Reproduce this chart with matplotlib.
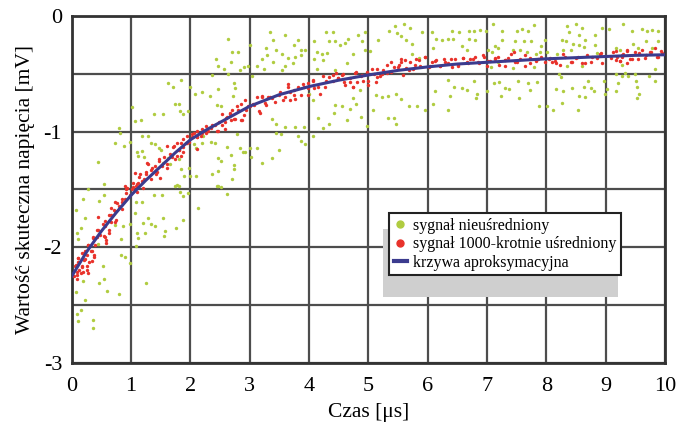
import matplotlib.pyplot as plt
from matplotlib.patches import Rectangle
from matplotlib.lines import Line2D

plt.rcParams['font.family'] = ['Liberation Serif', 'DejaVu Serif']
plt.rcParams['axes.unicode_minus'] = False

# raw (unaveraged) signal
green_pts = [
    (2.64, -0.20), (2.71, -0.31), (2.80, -0.31), (2.43, -0.37), (2.69, -0.40), (2.47, -0.43),
    (2.56, -0.46), (2.36, -0.51), (2.63, -0.50), (2.83, -0.47), (2.90, -0.44), (2.97, -0.43),
    (3.01, -0.25), (3.04, -0.52), (3.12, -0.43), (3.20, -0.37), (3.24, -0.46), (3.27, -0.28),
    (3.29, -0.34), (3.34, -0.14), (1.62, -0.58), (1.71, -0.61), (1.85, -0.55), (2.00, -0.61),
    (2.08, -0.67), (2.20, -0.66), (2.33, -0.69), (2.46, -0.63), (2.74, -0.58), (2.75, -0.62),
    (2.72, -0.69), (2.45, -0.77), (2.51, -0.78), (1.74, -0.76), (1.81, -0.76), (1.83, -0.82),
    (1.88, -0.85), (1.96, -0.82), (1.54, -0.85), (1.38, -0.85), (1.01, -0.79), (1.07, -0.91),
    (1.17, -0.90), (0.79, -0.97), (0.82, -1.01), (0.73, -1.10), (0.88, -1.12), (0.99, -1.09),
    (1.19, -1.04), (1.28, -1.04), (1.33, -1.10), (1.40, -1.11), (1.47, -1.14), (1.19, -1.17),
    (1.10, -1.18), (1.12, -1.21), (1.22, -1.22), (1.51, -1.16), (1.54, -1.27), (1.63, -1.23),
    (1.66, -1.28), (1.80, -1.24), (2.06, -1.11), (2.09, -1.14), (2.20, -1.10), (2.22, -1.04),
    (2.35, -1.09), (2.42, -1.10), (2.62, -1.13), (2.79, -1.02), (2.83, -1.14), (2.88, -1.18),
    (2.92, -1.18), (3.03, -1.22), (3.00, -1.14), (3.13, -1.14), (3.20, -1.27), (2.47, -1.23),
    (2.51, -1.25), (2.69, -1.20), (2.73, -1.29), (2.74, -1.32), (2.47, -1.34), (2.36, -1.37),
    (2.09, -1.38), (1.98, -1.31), (2.00, -1.38), (1.89, -1.38), (1.84, -1.32), (1.78, -1.46),
    (2.47, -1.47), (2.71, -1.41), (0.45, -1.26), (0.54, -1.45), (0.28, -1.50),
    (0.19, -1.58), (0.54, -1.55), (0.46, -1.60), (0.07, -1.68), (0.22, -1.75), (0.15, -1.83),
    (0.08, -1.88), (0.10, -1.93), (1.08, -1.61), (1.18, -1.61), (1.38, -1.55), (1.53, -1.55),
    (1.74, -1.47), (1.81, -1.47), (1.83, -1.52), (1.88, -1.56), (1.96, -1.53), (2.13, -1.66),
    (2.45, -1.47), (2.52, -1.48), (2.62, -1.54), (1.06, -1.70), (1.28, -1.75), (1.20, -1.79),
    (1.33, -1.80), (1.40, -1.82), (1.54, -1.75), (1.87, -1.76), (1.75, -1.83), (1.58, -1.86),
    (1.55, -1.90), (1.10, -1.88), (1.12, -1.92), (1.24, -1.88), (0.83, -1.93), (0.87, -1.82),
    (0.99, -1.80), (0.73, -1.81), (0.45, -1.97), (1.08, -1.99), (0.83, -2.07), (0.89, -2.08),
    (0.99, -2.14), (0.53, -2.16), (0.54, -2.27), (0.46, -2.31), (0.19, -2.29), (0.07, -2.39),
    (0.60, -2.38), (0.80, -2.40), (1.25, -2.31), (0.22, -2.46), (0.15, -2.54), (0.08, -2.58),
    (0.10, -2.64), (0.35, -2.63), (0.36, -2.70),
    (3.60, -0.16), (3.40, -0.21), (3.45, -0.29), (3.54, -0.33), (3.40, -0.40), (3.60, -0.43),
    (3.54, -0.47), (3.65, -0.36), (3.74, -0.25), (3.81, -0.21), (3.86, -0.34), (3.77, -0.35),
    (3.73, -0.41), (3.87, -0.29), (3.94, -0.29), (4.08, -0.22), (4.28, -0.14), (4.33, -0.22),
    (4.40, -0.14), (4.44, -0.22), (4.13, -0.31), (4.22, -0.33), (4.09, -0.37), (4.23, -0.38),
    (4.30, -0.32), (4.53, -0.25), (4.60, -0.23), (4.65, -0.20), (4.14, -0.46), (4.44, -0.47),
    (4.64, -0.41), (4.74, -0.33), (4.83, -0.16), (4.89, -0.22), (4.94, -0.14), (4.95, -0.29),
    (5.03, -0.30), (5.16, -0.21), (5.35, -0.13), (5.45, -0.09), (5.49, -0.15), (5.61, -0.07),
    (5.56, -0.17), (5.63, -0.21), (5.70, -0.10), (5.74, -0.24), (5.91, -0.14), (5.74, -0.33),
    (5.85, -0.36), (6.07, -0.14), (6.14, -0.20), (6.25, -0.21), (6.34, -0.20), (6.41, -0.13),
    (6.53, -0.14), (6.58, -0.26), (6.42, -0.20), (6.09, -0.28), (6.34, -0.55), (6.44, -0.61),
    (6.58, -0.62), (6.12, -0.65), (6.37, -0.69), (6.34, -0.81), (6.09, -0.76), (5.96, -0.81),
    (5.82, -0.78), (5.69, -0.78), (5.55, -0.72), (5.47, -0.67), (5.34, -0.69), (5.23, -0.70),
    (5.13, -0.68), (5.08, -0.81), (5.34, -0.88), (5.44, -0.88), (5.46, -0.93), (4.97, -0.95),
    (4.87, -0.87), (4.86, -0.64), (4.74, -0.71), (4.80, -0.76), (4.69, -0.80), (4.56, -0.78),
    (4.44, -0.77), (4.43, -0.84), (4.64, -0.90), (4.33, -0.93), (4.23, -0.97), (4.16, -0.88),
    (4.07, -0.73), (4.00, -0.67), (3.91, -0.96), (3.76, -0.96), (3.59, -0.96), (3.45, -0.93),
    (3.37, -0.89), (3.45, -1.01), (3.53, -1.02), (3.81, -1.04), (3.86, -1.08), (3.94, -1.11),
    (4.07, -1.04), (3.50, -1.16), (3.38, -1.23),
    (6.69, -0.13), (6.79, -0.13), (6.89, -0.12), (6.98, -0.13), (6.70, -0.20), (6.80, -0.21),
    (6.66, -0.29), (7.11, -0.07), (7.25, -0.13), (7.26, -0.21), (7.14, -0.26), (7.19, -0.28),
    (7.02, -0.29), (7.08, -0.31), (7.50, -0.13), (7.60, -0.11), (7.69, -0.13), (7.79, -0.08),
    (7.47, -0.22), (7.62, -0.22), (7.75, -0.22), (7.44, -0.29), (7.56, -0.29), (7.68, -0.31),
    (7.91, -0.26), (7.98, -0.21), (8.02, -0.31), (7.90, -0.31), (7.82, -0.33), (7.80, -0.44),
    (7.44, -0.45), (7.19, -0.40), (7.07, -0.44), (8.35, -0.09), (8.51, -0.07), (8.61, -0.10),
    (8.39, -0.14), (8.56, -0.16), (8.65, -0.21), (8.26, -0.21), (8.33, -0.22), (8.46, -0.24),
    (8.56, -0.25), (8.63, -0.27), (8.29, -0.29), (8.42, -0.29), (8.18, -0.33), (8.61, -0.43),
    (8.35, -0.43), (8.94, -0.10), (9.06, -0.11), (8.82, -0.16), (8.82, -0.25), (8.85, -0.32),
    (9.29, -0.07), (9.44, -0.13), (9.61, -0.11), (9.70, -0.13), (9.79, -0.12), (9.88, -0.13),
    (9.68, -0.22), (9.89, -0.22), (9.47, -0.24), (9.18, -0.28), (9.25, -0.29), (9.54, -0.28),
    (9.78, -0.28), (9.84, -0.46), (9.27, -0.42), (9.33, -0.49), (9.18, -0.50), (9.27, -0.52),
    (9.38, -0.52), (9.50, -0.50), (9.73, -0.52), (9.84, -0.56), (9.51, -0.56), (9.53, -0.61),
    (9.56, -0.67), (9.53, -0.71), (9.21, -0.58), (9.18, -0.65), (8.98, -0.56), (8.99, -0.67),
    (9.03, -0.63), (8.71, -0.56), (8.64, -0.61), (8.75, -0.62), (8.81, -0.65), (8.55, -0.69),
    (8.65, -0.70), (8.53, -0.81), (8.43, -0.62), (8.29, -0.65), (8.17, -0.63), (8.27, -0.75),
    (8.12, -0.81), (8.01, -0.78), (7.88, -0.78), (8.21, -0.50), (8.25, -0.53), (7.85, -0.57),
    (7.73, -0.64), (7.69, -0.58), (7.52, -0.56), (7.54, -0.71), (7.38, -0.63), (7.30, -0.62),
    (7.23, -0.69), (7.21, -0.57), (7.12, -0.58), (6.79, -0.56), (6.83, -0.67), (6.81, -0.71),
    (7.01, -0.65), (6.66, -0.64),
]

# 1000x averaged signal
red_pts = [
    (0.92, -1.50), (1.01, -1.50), (1.20, -1.49), (1.09, -1.47), (0.99, -1.55), (0.90, -1.58),
    (0.84, -1.61), (0.73, -1.61), (0.80, -1.64), (0.67, -1.66), (0.73, -1.69), (0.62, -1.72),
    (0.56, -1.77), (0.67, -1.78), (0.73, -1.78), (0.52, -1.80), (0.43, -1.85), (0.48, -1.89),
    (0.56, -1.91), (0.63, -1.88), (0.58, -1.96), (0.40, -1.92), (0.35, -1.92), (0.28, -1.98),
    (0.34, -2.03), (0.37, -2.07), (0.26, -2.07), (0.22, -2.10), (0.17, -2.05), (0.10, -2.09),
    (0.11, -2.13), (0.29, -2.13), (0.26, -2.16), (0.17, -2.16), (0.06, -2.16), (0.12, -2.20),
    (0.19, -2.21), (0.08, -2.24), (0.16, -2.22), (0.09, -2.27), (0.28, -2.22), (0.34, -2.12),
    (0.22, -2.03), (0.44, -1.74),
    (0.93, -1.49), (1.04, -1.44), (1.13, -1.39), (1.21, -1.41), (1.27, -1.27), (1.33, -1.33),
    (1.40, -1.30), (1.44, -1.35), (1.49, -1.40), (1.47, -1.25), (1.55, -1.22), (1.60, -1.28),
    (1.66, -1.19), (1.72, -1.12), (1.78, -1.21), (1.80, -1.16), (1.85, -1.21), (1.88, -1.13),
    (1.93, -1.10), (1.94, -1.04), (1.98, -1.09), (2.02, -1.05), (2.06, -1.01), (2.12, -0.99),
    (2.11, -1.05), (2.18, -1.04), (2.20, -1.01), (2.26, -0.95), (2.29, -0.99), (2.35, -0.97),
    (2.42, -0.94), (2.47, -0.99), (2.54, -0.85), (2.58, -0.92), (2.62, -0.87), (2.67, -0.85),
    (2.71, -0.81), (2.74, -0.89), (2.79, -0.78), (2.85, -0.76), (2.87, -0.90), (2.92, -0.73),
    (2.94, -0.81), (3.01, -0.78), (3.06, -0.76), (3.12, -0.70), (3.17, -0.84), (3.20, -0.69),
    (3.26, -0.75), (3.31, -0.70), (2.58, -0.98), (1.61, -1.12), (1.85, -1.10), (1.33, -1.41),
    (1.12, -1.44), (1.25, -1.35),
    (3.38, -0.71), (3.49, -0.68), (3.56, -0.73), (3.65, -0.59), (3.68, -0.66), (3.74, -0.64),
    (3.76, -0.72), (3.86, -0.68), (3.91, -0.61), (3.99, -0.58), (3.99, -0.68), (4.07, -0.56),
    (4.18, -0.67), (4.23, -0.52), (4.27, -0.61), (4.34, -0.53), (4.41, -0.56), (4.49, -0.54),
    (4.55, -0.51), (4.59, -0.57), (4.69, -0.54), (4.78, -0.49), (4.81, -0.57), (4.88, -0.52),
    (4.97, -0.48), (5.00, -0.56), (5.09, -0.50), (5.13, -0.57), (5.19, -0.52), (5.25, -0.47),
    (5.32, -0.49), (5.39, -0.40), (5.43, -0.44), (5.51, -0.42), (5.59, -0.51), (5.64, -0.45),
    (5.70, -0.40), (5.76, -0.46), (5.81, -0.37), (5.88, -0.43), (5.96, -0.35), (6.03, -0.44),
    (6.07, -0.40), (6.15, -0.38), (6.21, -0.43), (6.28, -0.37), (6.35, -0.41), (6.41, -0.44),
    (6.46, -0.37), (6.52, -0.43), (6.60, -0.36), (6.68, -0.41), (4.74, -0.61), (4.46, -0.49),
    (4.08, -0.62), (5.14, -0.46), (5.56, -0.37),
    (6.71, -0.37), (6.80, -0.35), (6.85, -0.40), (6.94, -0.34), (7.00, -0.43), (7.06, -0.39),
    (7.14, -0.36), (7.21, -0.42), (7.30, -0.38), (7.36, -0.36), (7.45, -0.31), (7.47, -0.40),
    (7.56, -0.37), (7.64, -0.43), (7.73, -0.36), (7.82, -0.39), (7.91, -0.35), (7.98, -0.40),
    (8.06, -0.36), (8.15, -0.39), (8.24, -0.42), (8.32, -0.35), (8.41, -0.40), (8.51, -0.36),
    (8.60, -0.41), (8.69, -0.34), (8.76, -0.40), (8.85, -0.36), (8.92, -0.32), (8.94, -0.41),
    (9.10, -0.36), (9.17, -0.30), (9.25, -0.39), (9.30, -0.33), (9.36, -0.29), (9.42, -0.37),
    (9.50, -0.31), (9.55, -0.37), (9.61, -0.29), (9.69, -0.34), (9.75, -0.31), (9.83, -0.28),
    (9.89, -0.35), (9.96, -0.32), (9.20, -0.35), (9.27, -0.35), (7.30, -0.43), (8.09, -0.40),
    # second reading, denser parts of the band
    (1.28, -1.28), (1.35, -1.31), (1.47, -1.24), (1.52, -1.30), (1.42, -1.37), (1.25, -1.37),
    (1.15, -1.37), (1.19, -1.43), (1.10, -1.45), (1.04, -1.48), (1.10, -1.52), (1.06, -1.36),
    (1.69, -1.22), (1.74, -1.24), (1.61, -1.31), (0.90, -1.47), (0.92, -1.53), (0.84, -1.58),
    (0.76, -1.62), (0.84, -1.67), (0.72, -1.68), (0.67, -1.72), (0.74, -1.76), (0.62, -1.77),
    (0.56, -1.82), (0.63, -1.85), (0.45, -1.85), (0.54, -1.90), (0.43, -1.91), (0.35, -1.91),
    (0.39, -1.98), (0.28, -1.98), (0.33, -2.03), (0.20, -2.05), (0.11, -2.09), (0.21, -2.11),
    (0.07, -2.15), (0.17, -2.17), (0.09, -2.21), (0.04, -2.25), (0.25, -2.20), (0.37, -2.08),
    (0.58, -1.94),
    (1.71, -1.13), (1.77, -1.10), (1.81, -1.16), (1.88, -1.06), (1.94, -1.10), (2.02, -1.02),
    (2.11, -1.05), (2.19, -0.98), (2.27, -1.01), (2.37, -0.94), (2.45, -0.99), (2.53, -0.94),
    (2.60, -0.88), (2.66, -0.84), (2.75, -0.89), (2.81, -0.81), (2.90, -0.86), (2.98, -0.78),
    (3.08, -0.77), (3.15, -0.82), (3.20, -0.70), (3.28, -0.77), (3.34, -0.70), (3.43, -0.74),
    (3.51, -0.66), (3.60, -0.70), (3.65, -0.61), (3.74, -0.68), (3.81, -0.61), (3.90, -0.59),
    (3.98, -0.62), (4.06, -0.55), (4.16, -0.61), (4.29, -0.56), (2.12, -1.15), (1.88, -1.18),
    (2.48, -0.92), (2.68, -0.90), (2.86, -0.90), (3.68, -0.73),
    (4.41, -0.51), (4.49, -0.54), (4.57, -0.50), (4.60, -0.60), (4.70, -0.57), (4.80, -0.48),
    (4.89, -0.51), (4.91, -0.56), (5.07, -0.46), (5.14, -0.53), (5.23, -0.50), (5.31, -0.42),
    (5.39, -0.48), (5.50, -0.44), (5.55, -0.40), (5.62, -0.38), (5.69, -0.47), (5.79, -0.42),
    (5.86, -0.38), (5.96, -0.35), (6.04, -0.43), (6.13, -0.39), (6.21, -0.43), (6.29, -0.40),
    (6.40, -0.37), (6.51, -0.42), (6.59, -0.36), (6.66, -0.40), (6.77, -0.37), (6.86, -0.41),
    (6.95, -0.35), (7.02, -0.39), (7.14, -0.37), (4.99, -0.60), (4.74, -0.61),
    (7.19, -0.35), (7.30, -0.38), (7.41, -0.33), (7.50, -0.40), (7.64, -0.34), (7.72, -0.41),
    (7.86, -0.37), (8.05, -0.37), (8.16, -0.41), (8.29, -0.33), (8.43, -0.40), (8.54, -0.35),
    (8.66, -0.41), (8.78, -0.35), (8.91, -0.33), (9.13, -0.31), (9.18, -0.38), (9.28, -0.34),
    (9.37, -0.30), (9.45, -0.37), (9.56, -0.32), (9.67, -0.36), (9.77, -0.31), (9.86, -0.35),
    (9.94, -0.30), (9.25, -0.39), (9.36, -0.41),
]

# fitted curve
fit_x = [0, 0.25, 0.5, 0.75, 1.0, 1.25, 1.5, 1.75, 2.0, 2.25, 2.5, 2.75, 3.0, 3.5, 4.0,
         4.5, 5.0, 5.5, 6.0, 6.5, 7.0, 7.5, 8.0, 8.5, 9.0, 9.5, 10.0]
fit_y = [-2.25, -2.04, -1.86, -1.70, -1.55, -1.42, -1.30, -1.18, -1.07, -0.99, -0.92, -0.85,
         -0.78, -0.68, -0.61, -0.555, -0.51, -0.47, -0.44, -0.415, -0.40, -0.385, -0.37,
         -0.36, -0.35, -0.34, -0.335]

labels = ['sygnał nieuśredniony', 'sygnał 1000-krotnie uśredniony', 'krzywa aproksymacyjna']
green = '#b0cc40'
red = '#e8322b'
blue = '#3b3b8e'

fig = plt.figure(figsize=(6.77, 4.22), dpi=100)
ax = fig.add_axes([0.106, 0.14, 0.876, 0.822])

gx = [p[0] for p in green_pts]
gy = [p[1] for p in green_pts]
rx = [p[0] for p in red_pts]
ry = [p[1] for p in red_pts]

ax.scatter(gx, gy, s=6, color=green, linewidths=0, zorder=3)
ax.scatter(rx, ry, s=6, color=red, linewidths=0, zorder=4)
ax.plot(fit_x, fit_y, color=blue, linewidth=2.2, zorder=5)

ax.set_xlim(0, 10)
ax.set_ylim(-3, 0)
ax.set_xticks(range(0, 11))
ax.set_yticks([-3, -2, -1, 0])
ax.set_yticks([-2.5, -1.5, -0.5], minor=True)
ax.grid(True, which='both', color='#4d4d4d', linewidth=1.6, zorder=1)
ax.set_axisbelow(True)
ax.tick_params(which='both', length=0, labelsize=16)
ax.tick_params(axis='x', pad=10)
ax.tick_params(axis='y', pad=7)
for s in ax.spines.values():
    s.set_color('#333333')
    s.set_linewidth(2)

ax.set_xlabel('Czas [μs]', fontsize=15.5, labelpad=5)
ax.set_ylabel('Wartość skuteczna napięcia [mV]', fontsize=15.5, labelpad=6)

# gray shadow behind legend
ax.add_patch(Rectangle((0.524, 0.190), 0.397, 0.196, transform=ax.transAxes,
                       facecolor='#cfcfcf', edgecolor='none', zorder=6))

handles = [
    Line2D([], [], linestyle='none', marker='o', markersize=5, color=green),
    Line2D([], [], linestyle='none', marker='o', markersize=5, color=red),
    Line2D([], [], color=blue, linewidth=3),
]
leg = ax.legend(handles, labels, loc='upper left', bbox_to_anchor=(0.535, 0.432),
                fontsize=11.5, frameon=True, fancybox=False, shadow=False,
                handlelength=0.8, handletextpad=0.4, borderpad=0.3, labelspacing=0.15,
                borderaxespad=0)
leg.get_frame().set_edgecolor('#222222')
leg.get_frame().set_linewidth(1.5)
leg.get_frame().set_alpha(1)
leg.set_zorder(7)

fig.savefig('out.png', dpi=100)
plt.close(fig)
